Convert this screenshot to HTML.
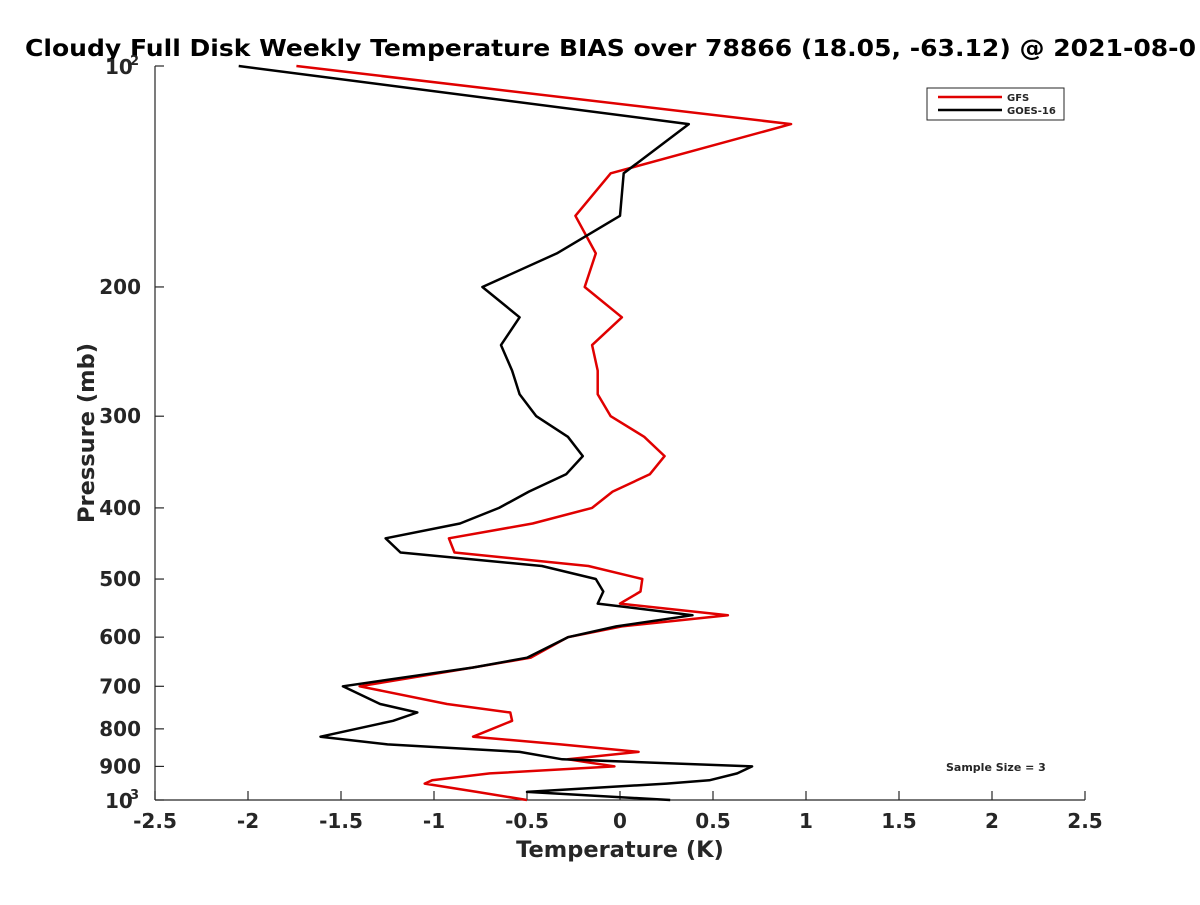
<!DOCTYPE html>
<html><head><meta charset="utf-8"><style>
body{margin:0;background:#fff;}
svg text{font-family:"DejaVu Sans","Liberation Sans",sans-serif;font-weight:bold;fill:#262626;}
</style></head><body>
<svg id="chart" width="1200" height="900" viewBox="0 0 1200 900">
<rect width="1200" height="900" fill="#fff"/>
<text x="25" y="56" font-size="23.5" textLength="1171" lengthAdjust="spacingAndGlyphs" style="fill:#000">Cloudy Full Disk Weekly Temperature BIAS over 78866 (18.05, -63.12) @ 2021-08-0</text>
<g id="axes"></g>
<g id="series"></g>
<g>
<rect x="927" y="88" width="137" height="32" fill="#fff" stroke="#262626" stroke-width="1"/>
<line x1="938" y1="97" x2="1002" y2="97" stroke="#e00000" stroke-width="2.5"/>
<text x="1007" y="101" font-size="10">GFS</text>
<line x1="938" y1="110" x2="1002" y2="110" stroke="#000" stroke-width="2.5"/>
<text x="1007" y="114" font-size="10">GOES-16</text>
</g>
<text x="946" y="771" font-size="11">Sample Size = 3</text>
<text x="620" y="857" font-size="22.5" text-anchor="middle">Temperature (K)</text>
<text transform="translate(94,433) rotate(-90)" font-size="22.5" text-anchor="middle">Pressure (mb)</text>
</svg>
<script>
const pressures=[100,120,140,160,180,200,220,240,260,280,300,320,340,360,380,400,420,440,460,480,500,520,540,560,580,600,640,660,700,740,760,780,820,840,860,880,900,920,940,950,975,1000];
const goesBias=[-2.05,0.37,0.02,0.00,-0.34,-0.74,-0.54,-0.64,-0.58,-0.54,-0.45,-0.28,-0.20,-0.29,-0.49,-0.65,-0.86,-1.26,-1.18,-0.42,-0.13,-0.09,-0.12,0.39,-0.02,-0.28,-0.50,-0.79,-1.49,-1.29,-1.09,-1.22,-1.61,-1.25,-0.54,-0.31,0.71,0.63,0.48,0.25,-0.50,0.27];
const gfsBias=[-1.74,0.92,-0.05,-0.24,-0.13,-0.19,0.01,-0.15,-0.12,-0.12,-0.05,0.13,0.24,0.16,-0.04,-0.15,-0.47,-0.92,-0.89,-0.17,0.12,0.11,0.00,0.58,0.01,-0.28,-0.48,-0.79,-1.40,-0.93,-0.59,-0.58,-0.79,-0.32,0.10,-0.28,-0.03,-0.70,-1.01,-1.05,-0.77,-0.50];
const xTicks=[-2.5,-2,-1.5,-1,-0.5,0,0.5,1,1.5,2,2.5];
const xTickLabels=["-2.5","-2","-1.5","-1","-0.5","0","0.5","1","1.5","2","2.5"];
const yTicks=[200,300,400,500,600,700,800,900];
const NS='http://www.w3.org/2000/svg';
const X0=155,X1=1085,Y0=66,Y1=800;
function xs(v){return X0+(v+2.5)/5*(X1-X0);}
function ys(p){return Y0+Math.log10(p/100)*(Y1-Y0);}
function mk(tag,attrs,parent){const e=document.createElementNS(NS,tag);for(const k in attrs)e.setAttribute(k,attrs[k]);parent.appendChild(e);return e;}
const ax=document.getElementById('axes');
let l=mk('line',{x1:X0,y1:Y1,x2:X1,y2:Y1,stroke:'#262626','stroke-width':1.2},ax);


l=mk('line',{x1:X0,y1:Y0,x2:X0,y2:Y1,stroke:'#262626','stroke-width':1.2},ax);


xTicks.forEach((v,i)=>{const x=xs(v);
 const t=mk('line',{x1:x,y1:Y1,x2:x,y2:Y1-9,stroke:'#262626','stroke-width':1.2},ax);
 
 
 const tx=mk('text',{x:x,y:Y1+28,'font-size':20,'text-anchor':'middle'},ax);tx.textContent=xTickLabels[i];
 
 
});
yTicks.forEach(p=>{const y=ys(p);
 const t=mk('line',{x1:X0,y1:y,x2:X0+9,y2:y,stroke:'#262626','stroke-width':1.2},ax);
 
 
 const tx=mk('text',{x:X0-14,y:y+7,'font-size':20,'text-anchor':'end'},ax);tx.textContent=String(p);
 
 
});
[[100,'2'],[1000,'3']].forEach(([p,e])=>{const y=ys(p);
 const t=mk('line',{x1:X0,y1:y,x2:X0+9,y2:y,stroke:'#262626','stroke-width':1.2},ax);
 
 
 const tx=mk('text',{x:X0-50,y:y+8,'font-size':20},ax);tx.textContent='10';
 
 
 const sp=mk('text',{x:X0-25,y:y-1,'font-size':13},ax);sp.textContent=e;
 
 
});
const sg=document.getElementById('series');
function draw(vals,color,name){
 const pts=vals.map((v,i)=>xs(v).toFixed(1)+','+ys(pressures[i]).toFixed(1)).join(' ');
 const pl=mk('polyline',{points:pts,fill:'none',stroke:color,'stroke-width':2.5,'stroke-linejoin':'round'},sg);
 
 
}
draw(gfsBias,'#e00000','gfs-line');
draw(goesBias,'#000000','goes16-line');
</script>
</body></html>
